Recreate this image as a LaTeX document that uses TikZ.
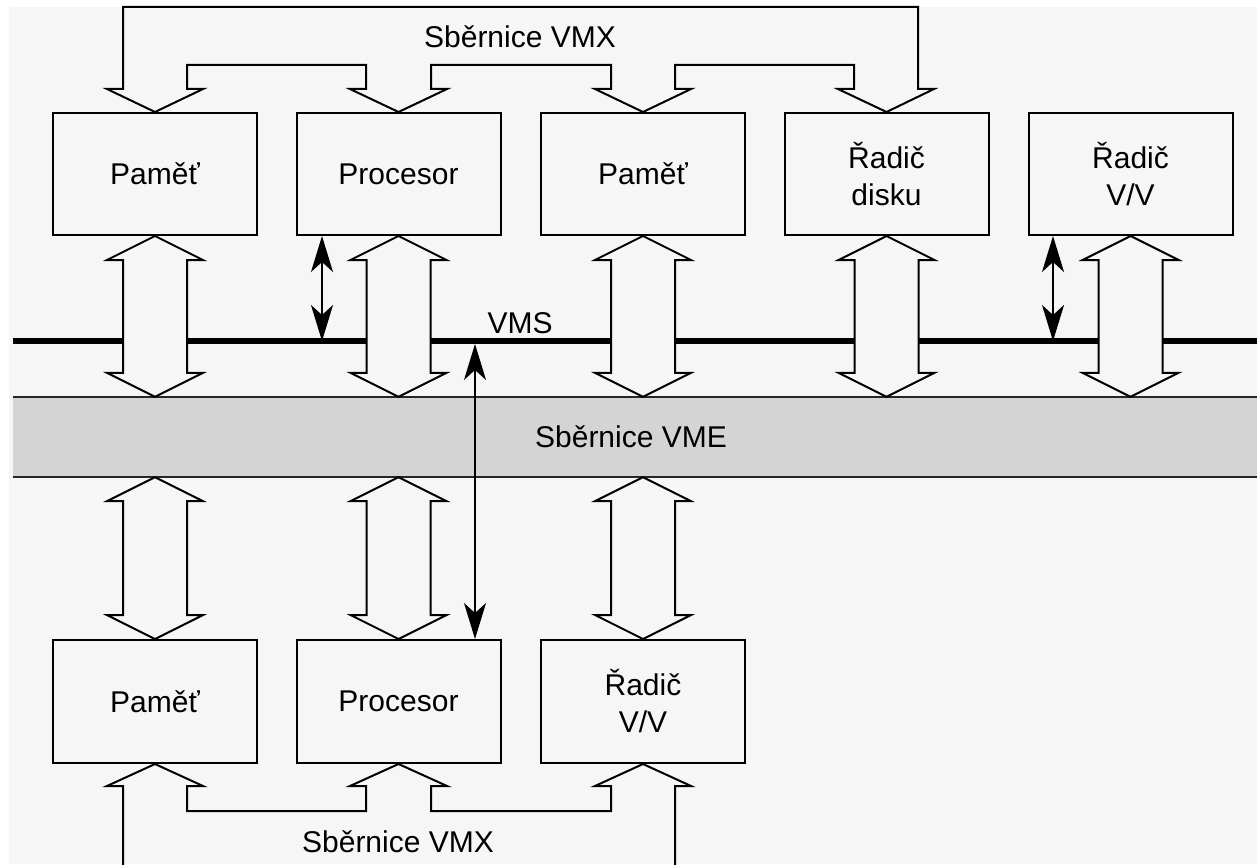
\documentclass[tikz,border=0pt]{standalone}
\usepackage{fontspec}
\setmainfont{Liberation Sans}
\usetikzlibrary{arrows.meta,calc}
\definecolor{bgc}{HTML}{F6F6F6}
\definecolor{bandc}{HTML}{D4D4D4}
\newcommand\hollowdbl[2]{%
  \path[hollow] let \p1=(#1), \p2=(#2) in
    (\x1,\y1) -- (\x1+48pt,\y1-24pt) -- (\x1+32pt,\y1-24pt) -- (\x1+32pt,\y2+24pt)
    -- (\x1+48pt,\y2+24pt) -- (\x1,\y2) -- (\x1-48pt,\y2+24pt) -- (\x1-32pt,\y2+24pt)
    -- (\x1-32pt,\y1-24pt) -- (\x1-48pt,\y1-24pt) -- cycle;}
\begin{document}
\begin{tikzpicture}[x=1pt,y=-1pt,line join=miter,
  txt/.style={font=\fontsize{30}{37}\selectfont},
  box/.style={draw,line width=2pt,fill=bgc,minimum width=204pt,minimum height=122pt,inner sep=0pt,align=center,txt},
  lbl/.style={inner sep=0pt,txt},
  hollow/.style={draw,line width=2pt,fill=bgc},
  bus/.style={draw,line width=2pt},
  sarr/.style={line width=2pt,{Stealth[length=36pt,width=22pt,inset=10pt]}-{Stealth[length=36pt,width=22pt,inset=10pt]}}]
\useasboundingbox (0,0) rectangle (1257,864);
\fill[white] (0,0) rectangle (1257,864);
\fill[bgc] (9,7) rectangle (1257,864);
% VMS bus line
\draw[line width=5.5pt] (13,341) -- (1257,341);
% VME band
\node[fill=bandc,minimum width=1244pt,minimum height=80pt,inner sep=0pt] (vme) at (635,437) {};
\draw[line width=1.8pt,black!85] (vme.north west) -- (vme.north east) (vme.south west) -- (vme.south east);
\node[lbl] (vmel) at (631,437) {Sběrnice VME};
% top boxes
\node[box] (m1) at (155,174) {Paměť};
\node[box] (p2) at (398.5,174) {Procesor};
\node[box] (m3) at (643,174) {Paměť};
\node[box] (r4) at (886.5,174) {Řadič\\disku};
\node[box] (r5) at (1130.5,174) {Řadič\\V/V};
% bottom boxes
\node[box,minimum height=123pt] (q1) at (155,701.5) {Paměť};
\node[box,minimum height=123pt] (q2) at (398.5,701.5) {Procesor};
\node[box,minimum height=123pt] (q3) at (643,701.5) {Řadič\\V/V};
% hollow double arrows to VME
\hollowdbl{m1.south}{m1.south |- vme.north}
\hollowdbl{p2.south}{p2.south |- vme.north}
\hollowdbl{m3.south}{m3.south |- vme.north}
\hollowdbl{r4.south}{r4.south |- vme.north}
\hollowdbl{r5.south}{r5.south |- vme.north}
\hollowdbl{q1.north |- vme.south}{q1.north}
\hollowdbl{q2.north |- vme.south}{q2.north}
\hollowdbl{q3.north |- vme.south}{q3.north}
% top VMX bus
\path[bus] (m1.north) -- (203,89) -- (187,89) -- (187,65) -- (366,65) -- (366,89) -- (350,89)
  -- (p2.north) -- (447,89) -- (431,89) -- (431,65) -- (611,65) -- (611,89) -- (595,89)
  -- (m3.north) -- (691,89) -- (675,89) -- (675,65) -- (854,65) -- (854,89) -- (838,89)
  -- (r4.north) -- (934,89) -- (918,89) -- (918,7) -- (123,7) -- (123,89) -- (107,89) -- cycle;
\node[lbl] (vmxt) at (520,37) {Sběrnice VMX};
% bottom VMX bus
\path[bus] (123,870) -- (123,786) -- (107,786) -- (q1.south) -- (203,786) -- (187,786) -- (187,811)
  -- (366,811) -- (366,786) -- (350,786) -- (q2.south) -- (447,786) -- (431,786) -- (431,811)
  -- (611,811) -- (611,786) -- (595,786) -- (q3.south) -- (691,786) -- (675,786) -- (675,870);
\node[lbl] (vmxb) at (398,842) {Sběrnice VMX};
% VMS label and small arrows
\node[lbl] (vmsl) at (520,323) {VMS};
\coordinate (s1) at (322,341);
\coordinate (s2) at (1053,341);
\coordinate (s3) at (475,344);
\draw[sarr] (s1 |- p2.south) -- (s1);
\draw[sarr] (s2 |- r5.south) -- (s2);
\draw[sarr] (s3) -- (s3 |- q2.north);
\end{tikzpicture}
\end{document}
